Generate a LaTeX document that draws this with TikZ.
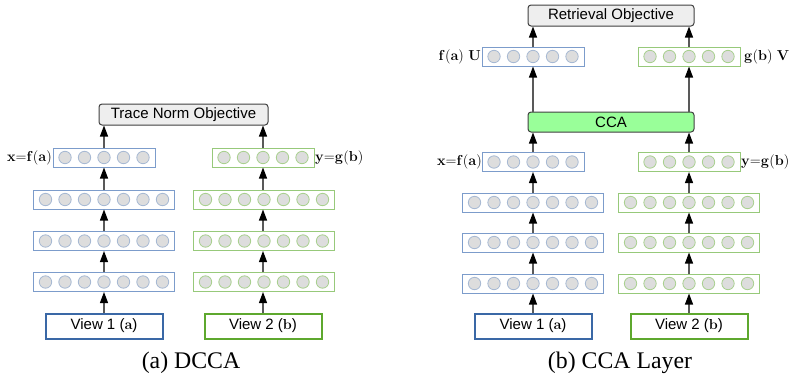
\documentclass[tikz,border=0pt]{standalone}
\usepackage[no-math]{fontspec}
\usetikzlibrary{arrows.meta}
\newfontfamily\arialf{Liberation Sans}
\newfontfamily\timesf{Liberation Serif}
\definecolor{layblue}{HTML}{7C9CCB}
\definecolor{laygreen}{HTML}{97C97A}
\definecolor{cirblue}{HTML}{A7B9D3}
\definecolor{cirgreen}{HTML}{A9D08F}
\definecolor{cirfill}{HTML}{DDDDDD}
\definecolor{viewblue}{HTML}{3A68A6}
\definecolor{viewgreen}{HTML}{5EA82E}
\definecolor{objfill}{HTML}{EEEEEE}
\definecolor{ccafill}{HTML}{99FF99}
\newcommand\mklayer[6]{%
  \node[#5, minimum width={(#4-1)*19.5+24}] (#1) at (#2,#3) {};
  \foreach \i in {1,...,#4}
    \draw[#6] (#1.center) ++({(\i-(#4+1)/2)*19.5},0) circle[radius=6.2];
}
\begin{document}
\begin{tikzpicture}[x=1pt,y=-1pt,
  layb/.style={draw=layblue, line width=1pt, fill=white, minimum height=19pt, inner sep=0pt},
  layg/.style={draw=laygreen, line width=1pt, fill=white, minimum height=19pt, inner sep=0pt},
  cb/.style={draw=cirblue, fill=cirfill, line width=0.8pt},
  cg/.style={draw=cirgreen, fill=cirfill, line width=0.8pt},
  viewb/.style={draw=viewblue, line width=2pt, minimum width=117pt, minimum height=25pt, inner sep=0pt, font=\arialf\fontsize{15}{18}\selectfont},
  viewg/.style={draw=viewgreen, line width=2pt, minimum width=117pt, minimum height=25pt, inner sep=0pt, font=\arialf\fontsize{15}{18}\selectfont},
  obj/.style={draw=black!75, line width=1pt, rounded corners=3pt, inner sep=0pt, minimum height=21pt, font=\arialf\fontsize{15}{18}\selectfont},
  arr/.style={draw=black!65, line width=1.1pt, -{Triangle[length=11pt,width=8pt,color=black]}},
  lab/.style={inner sep=0pt, font=\fontsize{13.5}{16}\selectfont},
  captxt/.style={inner sep=0pt, font=\timesf\fontsize{23.8}{28}\selectfont}
]
\useasboundingbox (0,0) rectangle (791,375);

% ---------- (a) DCCA ----------
\node[viewb] (aV1) at (104,326) {View 1 ($\mathbf{a}$)};
\node[viewg] (aV2) at (263,326) {View 2 ($\mathbf{b}$)};
\mklayer{aL1}{104}{282}{7}{layb}{cb}
\mklayer{aL2}{104}{241}{7}{layb}{cb}
\mklayer{aL3}{104}{199.5}{7}{layb}{cb}
\mklayer{aT}{104}{157.5}{5}{layb}{cb}
\mklayer{aR1}{264}{282}{7}{layg}{cg}
\mklayer{aR2}{264}{241}{7}{layg}{cg}
\mklayer{aR3}{264}{199.5}{7}{layg}{cg}
\mklayer{aRT}{263}{157.5}{5}{layg}{cg}
\node[obj, fill=objfill, minimum width=169pt] (trace) at (183.5,114.5) {Trace Norm Objective};
\node[lab, anchor=east] (axl) at (52,157.5) {$\mathbf{x}\mathbf{=}\mathbf{f}(\mathbf{a})$};
\node[lab, anchor=west] (ayl) at (315,157.5) {$\mathbf{y}\mathbf{=}\mathbf{g}(\mathbf{b})$};
\draw[arr] (aV1.north) -- (aL1.south);
\draw[arr] (aL1.north) -- (aL2.south);
\draw[arr] (aL2.north) -- (aL3.south);
\draw[arr] (aL3.north) -- (aT.south);
\draw[arr] (aT.north) -- (aT.north |- trace.south);
\draw[arr] (aV2.north) -- (aV2.north |- aR1.south);
\draw[arr] (aR1.north -| aV2.north) -- (aV2.north |- aR2.south);
\draw[arr] (aR2.north -| aV2.north) -- (aV2.north |- aR3.south);
\draw[arr] (aR3.north -| aV2.north) -- (aRT.south);
\draw[arr] (aRT.north) -- (aRT.north |- trace.south);
\node[captxt, anchor=base] (capa) at (191,368) {(a) DCCA};

% ---------- (b) CCA Layer ----------
\node[viewb] (bV1) at (533,326) {View 1 ($\mathbf{a}$)};
\node[viewg] (bV2) at (689,326) {View 2 ($\mathbf{b}$)};
\mklayer{bL1}{533}{283.5}{7}{layb}{cb}
\mklayer{bL2}{533}{242.5}{7}{layb}{cb}
\mklayer{bL3}{533}{202.5}{7}{layb}{cb}
\mklayer{bT}{533}{162}{5}{layb}{cb}
\mklayer{bR1}{689}{283.5}{7}{layg}{cg}
\mklayer{bR2}{689}{242.5}{7}{layg}{cg}
\mklayer{bR3}{689}{202.5}{7}{layg}{cg}
\mklayer{bRT}{689}{162}{5}{layg}{cg}
\node[obj, fill=ccafill, minimum width=166pt, minimum height=20pt] (cca) at (611,122) {CCA};
\mklayer{bU}{533}{56.5}{5}{layb}{cb}
\mklayer{bV}{689}{56.5}{5}{layg}{cg}
\node[obj, fill=objfill, minimum width=166pt] (retr) at (611,15.5) {Retrieval Objective};
\node[lab, anchor=east] (bxl) at (482,162) {$\mathbf{x}\mathbf{=}\mathbf{f}(\mathbf{a})$};
\node[lab, anchor=west] (byl) at (741,162) {$\mathbf{y}\mathbf{=}\mathbf{g}(\mathbf{b})$};
\node[lab, anchor=east] (bul) at (481,56.5) {$\mathbf{f}(\mathbf{a})\ \mathbf{U}$};
\node[lab, anchor=west] (bvl) at (744,56.5) {$\mathbf{g}(\mathbf{b})\ \mathbf{V}$};
\draw[arr] (bV1.north) -- (bL1.south);
\draw[arr] (bL1.north) -- (bL2.south);
\draw[arr] (bL2.north) -- (bL3.south);
\draw[arr] (bL3.north) -- (bT.south);
\draw[arr] (bT.north) -- (bT.north |- cca.south);
\draw[arr] (bV2.north) -- (bR1.south);
\draw[arr] (bR1.north) -- (bR2.south);
\draw[arr] (bR2.north) -- (bR3.south);
\draw[arr] (bR3.north) -- (bRT.south);
\draw[arr] (bRT.north) -- (bRT.north |- cca.south);
\draw[arr] (cca.north -| bU.south) -- (bU.south);
\draw[arr] (cca.north -| bV.south) -- (bV.south);
\draw[arr] (bU.north) -- (bU.north |- retr.south);
\draw[arr] (bV.north) -- (bV.north |- retr.south);
\node[captxt, anchor=base] (capb) at (620,368) {(b) CCA Layer};
\end{tikzpicture}
\end{document}
